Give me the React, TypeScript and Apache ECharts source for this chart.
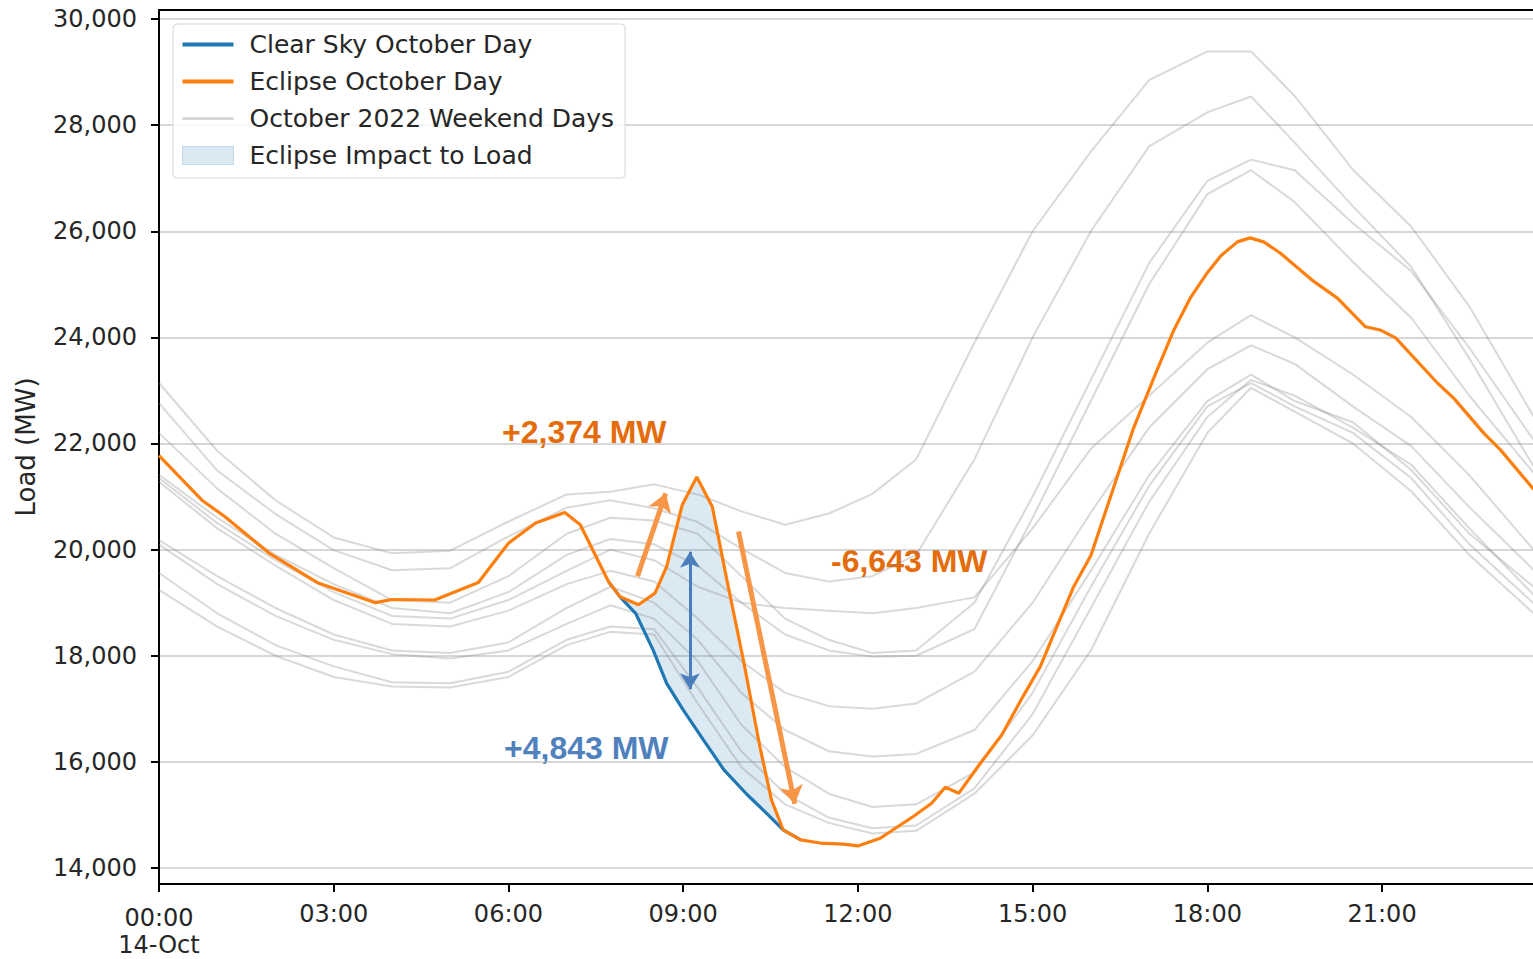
import React, { useEffect, useRef } from 'react';
import * as echarts from 'echarts';

// ---- Eclipse October Day (orange) ----
const eclipseMinutes = [0, 45, 68, 113, 164, 223, 240, 284, 329, 360, 388, 418, 434, 463, 475, 494, 511, 523, 539, 554, 570, 585, 602, 619, 631, 643, 661, 681, 705, 720, 743, 777, 796, 810, 824, 846, 868, 890, 908, 925, 942, 960, 984, 1004, 1027, 1045, 1063, 1080, 1094, 1111, 1124, 1138, 1155, 1190, 1214, 1243, 1258, 1274, 1317, 1334, 1365, 1382, 1416];
const eclipseLoad = [21770, 20920, 20620, 19940, 19370, 19000, 19060, 19050, 19380, 20120, 20500, 20700, 20470, 19400, 19110, 18960, 19180, 19680, 20840, 21370, 20810, 19430, 17920, 16290, 15280, 14720, 14530, 14470, 14450, 14415, 14560, 14970, 15220, 15520, 15410, 15970, 16500, 17230, 17800, 18550, 19290, 19890, 21200, 22290, 23330, 24120, 24760, 25220, 25540, 25800, 25875, 25800, 25590, 25050, 24740, 24200, 24140, 23990, 23140, 22850, 22190, 21880, 21140];

// ---- Clear Sky October Day (blue, visible where it departs from the eclipse day) ----
const clearSkyMinutes = [463, 475, 491, 509, 523, 540, 561, 582, 606, 626, 643, 661];
const clearSkyLoad = [19400, 19110, 18800, 18110, 17480, 16980, 16410, 15850, 15380, 15030, 14720, 14530];

// ---- October 2022 weekend days (grey) ----
const weekendMinutes = [0, 60, 120, 180, 240, 300, 360, 420, 465, 510, 555, 600, 645, 690, 735, 780, 840, 900, 960, 1020, 1080, 1125, 1170, 1230, 1290, 1350, 1416];
const weekendDay1 = [23140, 21860, 20930, 20230, 19930, 19980, 20530, 21040, 21090, 21230, 21040, 20720, 20470, 20680, 21050, 21700, 23900, 26000, 27500, 28850, 29390, 29390, 28550, 27160, 26090, 24580, 22510];
const weekendDay2 = [22760, 21490, 20670, 19990, 19610, 19650, 20250, 20790, 20930, 20780, 20520, 20020, 19560, 19400, 19500, 19900, 21700, 24000, 26000, 27600, 28240, 28540, 27670, 26470, 25330, 23600, 21570];
const weekendDay3 = [22200, 21150, 20300, 19650, 19050, 19000, 19500, 20300, 20600, 20550, 20300, 19500, 18700, 18300, 18050, 18100, 19000, 21000, 23200, 25400, 26950, 27350, 27150, 26150, 25250, 23800, 22070];
const weekendDay4 = [21410, 20600, 19900, 19350, 18900, 18800, 19200, 19900, 20200, 20100, 19700, 19000, 18400, 18100, 17980, 18000, 18500, 20600, 22800, 25000, 26700, 27150, 26550, 25420, 24370, 22900, 21450];
const weekendDay5 = [21350, 20500, 19800, 19200, 18750, 18700, 19050, 19600, 20000, 19800, 19300, 19000, 18900, 18850, 18800, 18900, 19100, 20400, 21900, 22900, 23900, 24420, 24000, 23300, 22500, 21400, 20000];
const weekendDay6 = [21280, 20400, 19700, 19050, 18600, 18550, 18850, 19350, 19600, 19400, 18700, 17900, 17300, 17050, 17000, 17100, 17700, 19000, 20700, 22300, 23400, 23850, 23500, 22700, 21950, 20800, 19620];
const weekendDay7 = [20180, 19500, 18900, 18400, 18100, 18050, 18250, 18900, 19300, 19000, 18300, 17300, 16600, 16200, 16100, 16150, 16600, 17900, 19600, 21400, 22800, 23300, 22800, 22400, 21500, 20300, 19300];
const weekendDay8 = [20100, 19350, 18750, 18300, 18030, 17950, 18100, 18600, 18950, 18700, 17900, 16700, 15900, 15400, 15150, 15200, 15800, 17300, 19300, 21200, 22700, 23140, 22700, 22200, 21350, 20100, 18990];
const weekendDay9 = [19560, 18800, 18200, 17800, 17500, 17480, 17700, 18300, 18550, 18500, 17400, 16200, 15400, 14950, 14750, 14800, 15500, 16900, 18900, 20900, 22500, 23200, 22900, 22300, 21600, 20400, 19150];
const weekendDay10 = [19240, 18550, 18000, 17600, 17420, 17400, 17600, 18200, 18450, 18400, 17100, 15900, 15200, 14850, 14650, 14700, 15400, 16500, 18100, 20300, 22200, 23050, 22600, 22000, 21100, 19900, 18800];

// ---- Axes ----
const xTickMinutes = [0, 180, 360, 540, 720, 900, 1080, 1260];
const yTicks = [14000, 16000, 18000, 20000, 22000, 24000, 26000, 28000, 30000];

// ---- Annotations ([minute, MW] start -> end) ----
const riseArrow = [[493, 19500], [522, 21060]];
const dropArrow = [[597, 20340], [655, 15210]];
const impactArrow = [[547, 19960], [547, 17370]];
const annotationTexts = ['+2,374 MW', '+4,843 MW', '-6,643 MW'];

const pairs = (xs: number[], ys: number[]) => xs.map((x, i) => [x, ys[i]]);

const fmtTime = (m: number) => {
  const h = Math.floor(m / 60);
  const mm = Math.round(m % 60);
  const s = String(h).padStart(2, '0') + ':' + String(mm).padStart(2, '0');
  return m === 0 ? '{a|' + s + '}\n{b|14-Oct}' : s;
};

export default function App() {
  const ref = useRef<HTMLDivElement>(null);

  useEffect(() => {
    document.body.style.margin = '0';
    if (!ref.current) return;
    const chart = echarts.init(ref.current, null, { renderer: 'svg' });

    const axisText = { fontFamily: 'DejaVu Sans', fontSize: 24, color: '#262626' };
    const grey = 'rgba(128,128,128,0.3)';
    const fillColor = 'rgba(31,119,180,0.16)';
    const lineIcon = 'path://M0,0L51,0L51,4L0,4Z';

    const weekendSets = [weekendDay1, weekendDay2, weekendDay3, weekendDay4, weekendDay5, weekendDay6, weekendDay7, weekendDay8, weekendDay9, weekendDay10];

    const eclipsePts = pairs(eclipseMinutes, eclipseLoad);
    const clearPts = pairs(clearSkyMinutes, clearSkyLoad);
    const t0 = 475;
    const t1 = 643;

    const greySeries = weekendSets.map((d) => ({
      type: 'line',
      name: 'October 2022 Weekend Days',
      data: pairs(weekendMinutes, d),
      symbol: 'none',
      lineStyle: { color: grey, width: 2 },
      itemStyle: { color: grey },
      silent: true,
      emphasis: { disabled: true },
    }));

    const option: any = {
      animation: false,
      grid: { left: 159, right: 0, top: 10, bottom: 75 },
      legend: {
        orient: 'vertical',
        left: 173,
        top: 24,
        padding: [8, 11, 10, 9],
        itemGap: 12,
        itemWidth: 51,
        itemHeight: 18,
        selectedMode: false,
        backgroundColor: 'rgba(255,255,255,0.8)',
        borderColor: '#d6d6d6',
        borderWidth: 1,
        borderRadius: 4,
        textStyle: { ...axisText, fontSize: 25, lineHeight: 24, padding: [0, 0, 0, 11] },
        data: [
          { name: 'Clear Sky October Day', icon: lineIcon, itemStyle: { color: '#1f77b4' } },
          { name: 'Eclipse October Day', icon: lineIcon, itemStyle: { color: '#ff7f0e' } },
          { name: 'October 2022 Weekend Days', icon: 'path://M0,0L51,0L51,3L0,3Z', itemStyle: { color: '#d9d9d9' } },
          {
            name: 'Eclipse Impact to Load',
            icon: 'rect',
            itemStyle: { color: fillColor, borderColor: 'rgba(31,119,180,0.22)', borderWidth: 1 },
          },
        ],
      },
      xAxis: [
        {
          type: 'value',
          min: 0,
          max: 1415.5,
          position: 'bottom',
          axisLine: { onZero: false, lineStyle: { color: '#000', width: 2 } },
          axisTick: { customValues: xTickMinutes, length: 8, lineStyle: { color: '#000', width: 2 } },
          axisLabel: {
            customValues: xTickMinutes,
            formatter: fmtTime,
            margin: 15,
            lineHeight: 29,
            ...axisText,
            rich: {
              a: { ...axisText, lineHeight: 37 },
              b: { ...axisText, lineHeight: 17 },
            },
          },
          splitLine: { show: false },
        },
        {
          type: 'value',
          min: 0,
          max: 1415.5,
          position: 'top',
          axisLine: { onZero: false, lineStyle: { color: '#000', width: 2 } },
          axisTick: { show: false },
          axisLabel: { show: false },
          splitLine: { show: false },
        },
      ],
      yAxis: {
        type: 'value',
        min: 13698,
        max: 30170,
        name: 'Load (MW)',
        nameLocation: 'middle',
        nameGap: 120,
        nameTextStyle: { ...axisText, fontSize: 26 },
        axisLine: { show: true, lineStyle: { color: '#000', width: 2 } },
        axisTick: { show: true, customValues: yTicks, length: 8, lineStyle: { color: '#000', width: 2 } },
        axisLabel: {
          customValues: yTicks,
          margin: 22,
          formatter: (v: number) => v.toLocaleString('en-US'),
          ...axisText,
        },
        splitLine: { show: true, lineStyle: { color: 'rgba(176,176,176,0.5)', width: 2 } },
      },
      series: [
        ...greySeries,
        {
          type: 'custom',
          name: 'Eclipse Impact to Load',
          data: [[t0, eclipseLoad[0]]],
          itemStyle: { color: fillColor },
          silent: true,
          clip: true,
          renderItem: (params: any, api: any) => {
            const top = eclipsePts.filter((p) => p[0] >= t0 && p[0] <= t1).map((p) => api.coord(p));
            const bottom = clearPts.filter((p) => p[0] >= t0 && p[0] <= t1).reverse().map((p) => api.coord(p));
            return {
              type: 'polygon',
              shape: { points: top.concat(bottom) },
              style: { fill: fillColor, stroke: 'none' },
            };
          },
        },
        {
          type: 'line',
          name: 'Clear Sky October Day',
          data: clearPts,
          symbol: 'none',
          lineStyle: { color: '#1f77b4', width: 3.2 },
          itemStyle: { color: '#1f77b4' },
          silent: true,
          emphasis: { disabled: true },
        },
        {
          type: 'line',
          name: 'Eclipse October Day',
          data: eclipsePts,
          symbol: 'none',
          lineStyle: { color: '#ff7f0e', width: 3.2 },
          itemStyle: { color: '#ff7f0e' },
          silent: true,
          emphasis: { disabled: true },
          markLine: {
            silent: true,
            animation: false,
            label: { show: false },
            emphasis: { disabled: true },
            data: [
              [
                { coord: riseArrow[0], symbol: 'none', lineStyle: { color: '#F79646', width: 5, type: 'solid' } },
                { coord: riseArrow[1], symbol: 'arrow', symbolSize: [18, 18] },
              ],
              [
                { coord: dropArrow[0], symbol: 'none', lineStyle: { color: '#F79646', width: 5, type: 'solid' } },
                { coord: dropArrow[1], symbol: 'arrow', symbolSize: [18, 18] },
              ],
              [
                { coord: impactArrow[0], symbol: 'arrow', symbolSize: [15, 16], lineStyle: { color: '#4A7EBB', width: 3, type: 'solid' } },
                { coord: impactArrow[1], symbol: 'arrow', symbolSize: [15, 16] },
              ],
            ],
          },
        },
      ],
      graphic: [
        {
          type: 'text',
          x: 502,
          y: 432,
          silent: true,
          style: { text: annotationTexts[0], font: 'bold 32px "Liberation Sans", Arial, sans-serif', fill: '#E46C0A', verticalAlign: 'middle' },
        },
        {
          type: 'text',
          x: 504,
          y: 748,
          silent: true,
          style: { text: annotationTexts[1], font: 'bold 32px "Liberation Sans", Arial, sans-serif', fill: '#4F81BD', verticalAlign: 'middle' },
        },
        {
          type: 'text',
          x: 831,
          y: 561,
          silent: true,
          style: { text: annotationTexts[2], font: 'bold 32px "Liberation Sans", Arial, sans-serif', fill: '#E46C0A', verticalAlign: 'middle' },
        },
      ],
    };

    chart.setOption(option);
    return () => {
      chart.dispose();
    };
  }, []);

  return <div ref={ref} style={{ width: 1533, height: 959 }} />;
}
